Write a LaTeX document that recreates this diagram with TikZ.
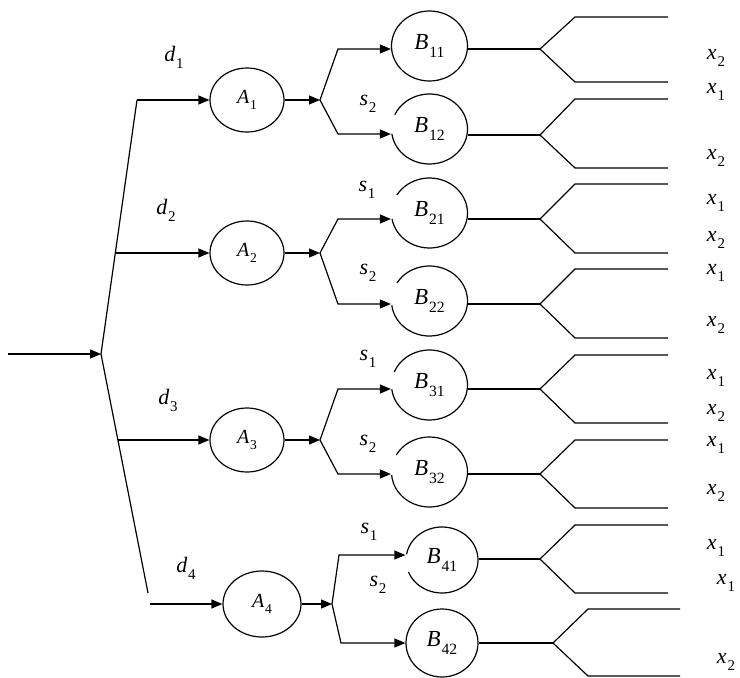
\documentclass[tikz,border=0pt]{standalone}
\usepackage{fontspec}
\setmainfont{Liberation Serif}
\usetikzlibrary{arrows.meta,shapes.geometric}
\newcommand\lbl[2]{\textit{#1}\kern0.04em\raisebox{-0.32em}{\scalebox{0.68}{#2}}}
\begin{document}
\begin{tikzpicture}[x=1pt,y=1pt,
  ln/.style={line width=1.2pt},
  arr/.style={ln,-{Triangle[length=11pt,width=9pt]}},
  anode/.style={ellipse,draw,line width=1.2pt,minimum width=74pt,minimum height=64pt,inner sep=0pt,font=\fontsize{20}{24}\selectfont},
  bnode/.style={ellipse,line width=1.2pt,minimum width=76pt,minimum height=70pt,inner sep=0pt,font=\fontsize{23}{27}\selectfont},
  lab/.style={font=\fontsize{22}{25}\selectfont,inner sep=0pt}]
\useasboundingbox (0,0) rectangle (740,-678);
% root
\coordinate (in) at (8,-354);
\coordinate (root) at (101,-354);
\coordinate (top) at (137,-100);
\coordinate (bot) at (148,-593);
\coordinate (d2s) at (116,-253);
\coordinate (d3s) at (118,-440);
\coordinate (d4s) at (150,-604);
\draw[arr] (in) -- (root);
\draw[ln] (top) -- (root) -- (bot);
% A nodes
\node[anode] (a1) at (247,-100) {\lbl{A}{1}};
\node[anode] (a2) at (247,-253) {\lbl{A}{2}};
\node[anode] (a3) at (247,-440) {\lbl{A}{3}};
\node[anode,minimum width=78pt,minimum height=66pt] (a4) at (262,-604) {\lbl{A}{4}};
\draw[arr] (top) -- (a1);
\draw[arr] (d2s) -- (a2);
\draw[arr] (d3s) -- (a3);
\draw[arr] (d4s) -- (a4);
% forks after A
\coordinate (f1) at (320,-100);
\coordinate (f2) at (320,-253);
\coordinate (f3) at (320,-440);
\coordinate (f4) at (332,-604);
\draw[arr] (a1) -- (f1);
\draw[arr] (a2) -- (f2);
\draw[arr] (a3) -- (f3);
\draw[arr] (a4) -- (f4);
\coordinate (u1) at (338,-49);  \coordinate (l1) at (338,-134);
\coordinate (u2) at (338,-219); \coordinate (l2) at (338,-304);
\coordinate (u3) at (338,-389); \coordinate (l3) at (338,-474);
\coordinate (u4) at (339,-555); \coordinate (l4) at (341,-643);
% B nodes
\node[bnode,draw] (b11) at (429.5,-46) {\lbl{B}{11}};
\node[bnode] (b12) at (429.5,-129) {\lbl{B}{12}};
\node[bnode] (b21) at (429.5,-213) {\lbl{B}{21}};
\node[bnode] (b22) at (429.5,-301) {\lbl{B}{22}};
\node[bnode] (b31) at (429.5,-385) {\lbl{B}{31}};
\node[bnode] (b32) at (429.5,-472) {\lbl{B}{32}};
\node[bnode,minimum width=72pt,minimum height=66pt] (b41) at (442,-560) {\lbl{B}{41}};
\node[bnode,draw,minimum width=72pt,minimum height=68pt] (b42) at (442,-643) {\lbl{B}{42}};
% open circles
\foreach \n/\s/\e in {b12/188/516, b21/190/509, b22/187/509, b31/187/518, b32/185/511}
  \draw[ln] ([shift={(\s:38 and 35)}]\n.center) arc[start angle=\s, end angle=\e, x radius=38, y radius=35];
\draw[ln] ([shift={(201:36 and 33)}]b41.center) arc[start angle=201, end angle=530, x radius=36, y radius=33];
% arrows into B
\draw[arr] (f1) -- (u1) -- (b11.west |- u1);
\draw[arr] (f1) -- (l1) -- (b12.west |- l1);
\draw[arr] (f2) -- (u2) -- (b21.west |- u2);
\draw[arr] (f2) -- (l2) -- (b22.west |- l2);
\draw[arr] (f3) -- (u3) -- (b31.west |- u3);
\draw[arr] (f3) -- (l3) -- (b32.west |- l3);
\draw[arr] (f4) -- (u4) -- (b41.west |- u4);
\draw[arr] (f4) -- (l4) -- (b42.west |- l4);
% outputs
\foreach \n/\gy/\uy/\dy in {b11/49/17/82, b12/135/99/168, b21/219/184/253, b22/304/269/338, b31/389/355/423, b32/474/440/508, b41/559/525/593}{
  \coordinate (g\n) at (540,-\gy);
  \coordinate (hu\n) at (575,-\uy); \coordinate (eu\n) at (668,-\uy);
  \coordinate (hd\n) at (575,-\dy); \coordinate (ed\n) at (668,-\dy);
  \draw[ln] (\n.east |- g\n) -- (g\n);
  \draw[ln] (eu\n) -- (hu\n) -- (g\n) -- (hd\n) -- (ed\n);
}
\coordinate (gb42) at (553,-643);
\coordinate (hub42) at (588,-609); \coordinate (eub42) at (680,-609);
\coordinate (hdb42) at (588,-676); \coordinate (edb42) at (680,-676);
\draw[ln] (b42.east |- gb42) -- (gb42);
\draw[ln] (eub42) -- (hub42) -- (gb42) -- (hdb42) -- (edb42);
% labels d
\node[lab] (ld1) at (174,-57) {\lbl{d}{1}};
\node[lab] (ld2) at (166,-210) {\lbl{d}{2}};
\node[lab] (ld3) at (168,-400) {\lbl{d}{3}};
\node[lab] (ld4) at (186,-568) {\lbl{d}{4}};
% labels s
\node[lab] (ls1) at (368,-104) {\lbl{s}{2}};
\node[lab] (ls2) at (367,-190) {\lbl{s}{1}};
\node[lab] (ls3) at (368,-273) {\lbl{s}{2}};
\node[lab] (ls4) at (368,-359) {\lbl{s}{1}};
\node[lab] (ls5) at (368,-444) {\lbl{s}{2}};
\node[lab] (ls6) at (369,-532) {\lbl{s}{1}};
\node[lab] (ls7) at (378,-585) {\lbl{s}{2}};
% labels x
\foreach \i/\xx/\yy/\k in {1/716/58/2, 2/716/92/1, 3/716/158/2, 4/716/203/1, 5/716/240/2, 6/716/273/1, 7/716/325/2, 8/716/378/1, 9/716/413/2, 10/716/445/1, 11/716/493/2, 12/716/548/1, 13/726/583/1, 14/726/662/2}
  \node[lab] (lx\i) at (\xx,-\yy) {\lbl{x}{\k}};
\end{tikzpicture}
\end{document}
